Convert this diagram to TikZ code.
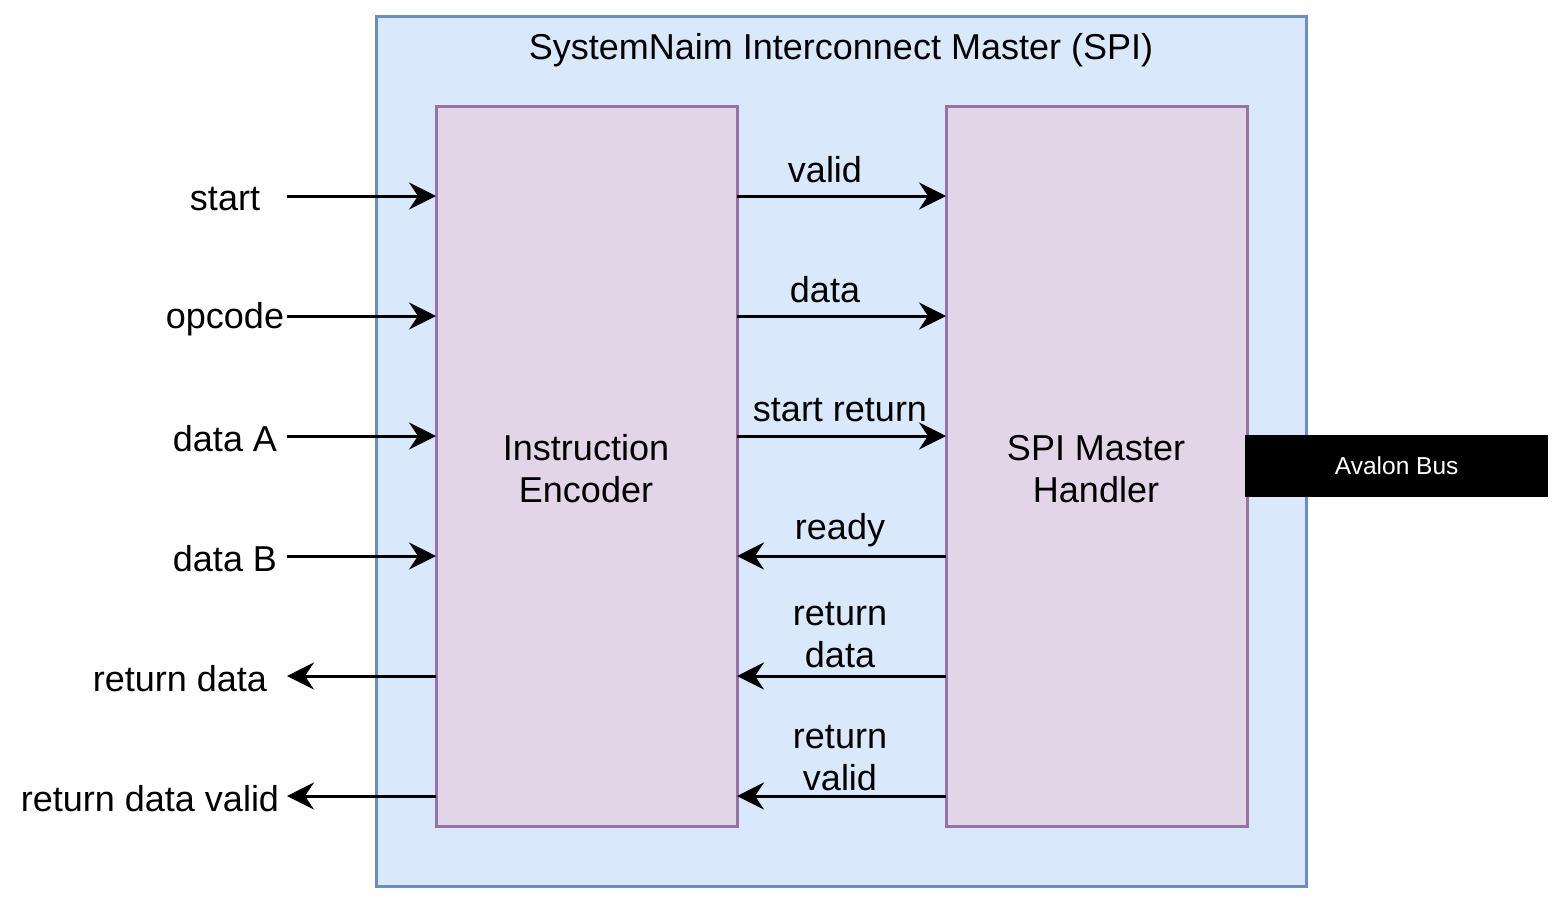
\documentclass[tikz,border=0pt]{standalone}
\usepackage{fontspec}
\setmainfont{Liberation Sans}
\usetikzlibrary{arrows.meta}
\definecolor{outerfill}{HTML}{DAE8FC}
\definecolor{outerdraw}{HTML}{6C8EBF}
\definecolor{blockfill}{HTML}{E1D5E7}
\definecolor{blockdraw}{HTML}{9673A6}
\tikzset{
  lbl/.style={font=\fontsize{36}{42}\selectfont, align=center, inner sep=0pt},
  sig/.style={line width=3pt, -{Stealth[length=27pt,width=27pt,inset=9pt]}},
  block/.style={draw=blockdraw, fill=blockfill, line width=3pt},
}
\begin{document}
\begin{tikzpicture}[x=1pt,y=-1pt]
\useasboundingbox (0,0) rectangle (1563,903);
% outer
\draw[draw=outerdraw, fill=outerfill, line width=3pt] (376,16) rectangle (1306,886);
\node[lbl] (title) at (841,50) {SystemNaim Interconnect Master (SPI)};
% blocks
\draw[block] (436,106) rectangle (737,826);
\draw[block] (946,106) rectangle (1247,826);
\node[lbl] (enc) at (586,469) {Instruction\\Encoder};
\node[lbl] (spi) at (1096,469) {SPI Master\\Handler};
% avalon
\node[fill=black, minimum width=303pt, minimum height=62pt, inner sep=0pt, anchor=west, text=white, font=\fontsize{24.5}{28}\selectfont] (av) at (1245,466) {Avalon Bus};
% coordinates
\foreach \n/\y in {a/196,b/316,c/436,d/556,e/676,f/796}{
  \coordinate (Lo\n) at (287,\y);
  \coordinate (Le\n) at (436,\y);
  \coordinate (Re\n) at (737,\y);
  \coordinate (Rs\n) at (946,\y);
}
% left inputs / outputs
\draw[sig] (Loa) -- (Lea);
\draw[sig] (Lob) -- (Leb);
\draw[sig] (Loc) -- (Lec);
\draw[sig] (Lod) -- (Led);
\draw[sig] (Lee) -- (Loe);
\draw[sig] (Lef) -- (Lof);
\node[lbl] (tstart) at (225,199) {start};
\node[lbl] (topc) at (225,319) {opcode};
\node[lbl] (tda) at (225,439) {data A};
\node[lbl] (tdb) at (225,559) {data B};
\node[lbl] (trd) at (180,679) {return data};
\node[lbl] (trdv) at (150,799) {return data valid};
% middle
\draw[sig] (Rea) -- (Rsa);
\draw[sig] (Reb) -- (Rsb);
\draw[sig] (Rec) -- (Rsc);
\draw[sig] (Rsd) -- (Red);
\draw[sig] (Rse) -- (Ree);
\draw[sig] (Rsf) -- (Ref);
\node[lbl] (tvalid) at (825,170) {valid};
\node[lbl] (tdata) at (825,290) {data};
\node[lbl] (tsr) at (840,410) {start return};
\node[lbl] (tready) at (840,530) {ready};
\node[lbl] (tretd) at (840,635) {return\\data};
\node[lbl] (tretv) at (840,758) {return\\valid};
\end{tikzpicture}
\end{document}
